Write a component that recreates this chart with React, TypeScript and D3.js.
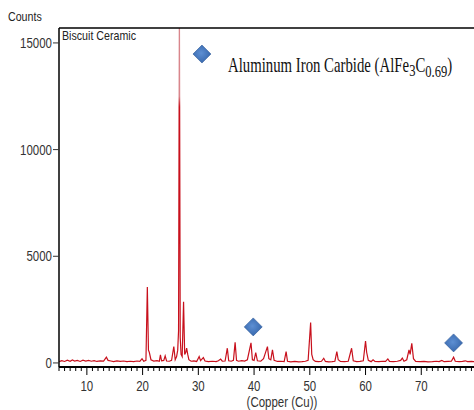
import * as d3 from "d3";

// 2-theta positions and counts
const twoTheta = [
  5.0, 5.5, 6.0, 6.5, 7.0, 7.4, 7.8, 8.3, 8.8, 9.3, 9.8, 10.3, 10.8, 11.3, 11.8, 12.4, 13.0, 13.5, 13.8, 14.3,
  14.8, 15.4, 16.0, 16.6, 17.2, 17.8, 18.4, 19.0, 19.5, 19.9, 20.2, 20.6, 20.85, 21.05, 21.2, 21.5, 22.0, 22.6,
  23.0, 23.2, 23.4, 23.8, 24.05, 24.3, 24.8, 25.2, 25.6, 25.85, 26.1, 26.3, 26.45, 26.6, 26.75, 26.9, 27.1,
  27.35, 27.55, 27.75, 27.9, 28.1, 28.3, 28.7, 29.2, 29.7, 30.15, 30.4, 30.9, 31.2, 31.8, 32.5, 33.2, 33.6,
  34.0, 34.3, 34.8, 35.2, 35.45, 35.9, 36.3, 36.6, 36.85, 37.2, 37.8, 38.3, 38.8, 39.45, 39.7, 40.0, 40.3,
  40.6, 41.2, 41.7, 41.95, 42.4, 42.65, 43.0, 43.3, 43.6, 44.2, 44.8, 45.4, 45.75, 46.0, 46.6, 47.3, 48.0,
  48.6, 49.2, 49.7, 50.15, 50.35, 50.6, 51.0, 51.6, 52.1, 52.5, 52.8, 53.4, 54.0, 54.5, 54.85, 55.1, 55.5,
  56.2, 56.9, 57.5, 57.8, 58.4, 59.0, 59.6, 60.0, 60.2, 60.5, 61.0, 61.35, 61.7, 62.4, 63.1, 63.6, 64.0,
  64.3, 65.0, 65.7, 66.3, 66.6, 66.9, 67.4, 67.8, 68.0, 68.3, 68.6, 69.0, 69.8, 70.5, 71.2, 72.0, 72.7,
  73.2, 73.7, 74.1, 74.8, 75.4, 75.8, 76.1, 76.8, 77.4, 77.9, 78.3, 79.0, 79.6, 80.0,
];
const counts = [
  60, 110, 70, 130, 80, 140, 90, 120, 70, 130, 90, 120, 80, 110, 70, 100, 90, 270, 120, 90,
  60, 100, 70, 90, 60, 80, 60, 90, 70, 200, 80, 120, 3560, 600, 500, 150, 90, 110,
  80, 380, 100, 120, 330, 90, 80, 120, 770, 150, 300, 600, 1500, 17000, 1200, 400, 300,
  2870, 400, 500, 690, 400, 150, 80, 100, 70, 300, 110, 250, 90, 60, 80, 60, 100,
  180, 80, 90, 690, 100, 80, 120, 970, 120, 80, 110, 90, 150, 940, 150, 120, 480,
  100, 80, 200, 400, 765, 200, 150, 610, 120, 70, 80, 60, 530, 80, 50, 70, 50,
  60, 80, 120, 1890, 400, 150, 70, 60, 80, 220, 70, 50, 60, 80, 530, 150, 70,
  60, 80, 690, 100, 60, 70, 100, 1030, 500, 120, 60, 150, 70, 60, 80, 70, 190,
  70, 60, 80, 120, 230, 80, 150, 610, 400, 920, 200, 70, 60, 70, 50, 60, 80,
  60, 120, 60, 70, 80, 270, 80, 60, 70, 100, 60, 70, 60, 70,
];

// AlFe3C0.69 markers
const markerTheta = [30.65, 39.85, 75.8];
const markerCounts = [14480, 1690, 940];

const yTicks = [0, 5000, 10000, 15000];
const xTicks = [10, 20, 30, 40, 50, 60, 70];

const W = 474;
const H = 410;
const left = 59;
const top = 28;
const bottom = 367;

const App = () => {
  const x = d3.scaleLinear().domain([5, 80]).range([left, 477]);
  const y = d3.scaleLinear().domain([-190, 15700]).range([bottom, top]);

  const pts = twoTheta.map((t, i) => [t, counts[i]] as [number, number]);
  const line = d3
    .line<[number, number]>()
    .x((d) => x(d[0]))
    .y((d) => y(d[1]));

  const minor = d3.range(5, 81, 1);
  const sx = 0.82; // fonts in the picture look squeezed sideways

  return (
    <svg width={W} height={H} style={{ position: "absolute", left: 0, top: 0, background: "#fff" }}>
      <defs>
        <clipPath id="plot">
          <rect x={left} y={top} width={W - left} height={bottom - top} />
        </clipPath>
        <linearGradient id="spec" gradientUnits="userSpaceOnUse" x1="0" x2="0" y1={y(12000)} y2={y(12500)}>
          <stop offset="0" stopColor="#c8101c" />
          <stop offset="1" stopColor="#d9868c" />
        </linearGradient>
        <radialGradient id="dia" cx="0.45" cy="0.45" r="0.6">
          <stop offset="0" stopColor="#5d8fd3" />
          <stop offset="1" stopColor="#3565aa" />
        </radialGradient>
      </defs>

      <path d={line(pts) ?? ""} fill="none" stroke="url(#spec)" strokeWidth={1.2} clipPath="url(#plot)" />

      {markerTheta.map((t, i) => {
        const cx = x(t);
        const cy = y(markerCounts[i]);
        return (
          <path
            key={i}
            d={`M${cx},${cy - 9}L${cx + 9},${cy}L${cx},${cy + 9}L${cx - 9},${cy}Z`}
            fill="url(#dia)"
            stroke="#2f5a99"
            strokeWidth={0.6}
          />
        );
      })}

      {/* frame */}
      <line x1={left} x2={left} y1={top} y2={bottom} stroke="#000" strokeWidth={1.5} />
      <line x1={left} x2={W} y1={top} y2={top} stroke="#000" strokeWidth={1.5} />
      <line x1={left} x2={W} y1={bottom} y2={bottom} stroke="#000" strokeWidth={2} />

      {minor.map((v) => (
        <line key={v} x1={x(v)} x2={x(v)} y1={bottom} y2={bottom + (v % 10 === 0 ? 8 : 4)} stroke="#000" strokeWidth={1} />
      ))}
      {xTicks.map((v) => (
        <text
          key={v}
          transform={`translate(${x(v)},391) scale(${sx},1)`}
          textAnchor="middle"
          fontFamily="Liberation Sans, Arial, sans-serif"
          fontSize={14}
          fill="#333"
        >
          {v}
        </text>
      ))}
      {yTicks.map((v) => (
        <g key={v}>
          <line x1={left - 6} x2={left} y1={y(v)} y2={y(v)} stroke="#333" strokeWidth={1} />
          <text
            transform={`translate(${left - 7},${y(v) + 5}) scale(${sx},1)`}
            textAnchor="end"
            fontFamily="Liberation Sans, Arial, sans-serif"
            fontSize={14}
            fill="#333"
          >
            {v}
          </text>
        </g>
      ))}

      <text transform={`translate(8,21) scale(${sx},1)`} fontFamily="Liberation Sans, Arial, sans-serif" fontSize={13} fill="#222">
        Counts
      </text>
      <text transform={`translate(62,40) scale(${sx},1)`} fontFamily="Liberation Sans, Arial, sans-serif" fontSize={13} fill="#222">
        Biscuit Ceramic
      </text>
      <text
        transform={`translate(282,407) scale(${sx},1)`}
        textAnchor="middle"
        fontFamily="Liberation Sans, Arial, sans-serif"
        fontSize={14}
        fill="#333"
      >
        (Copper (Cu))
      </text>

      <text transform={`translate(228,72) scale(0.74,1)`} fontFamily="Liberation Serif, Times New Roman, serif" fontSize={20} fill="#111">
        Aluminum Iron Carbide (AlFe
        <tspan dy={4} fontSize={17}>3</tspan>
        <tspan dy={-4}>C</tspan>
        <tspan dy={5} fontSize={17}>0.69</tspan>
        <tspan dy={-5}>)</tspan>
      </text>
    </svg>
  );
};

export default App;
